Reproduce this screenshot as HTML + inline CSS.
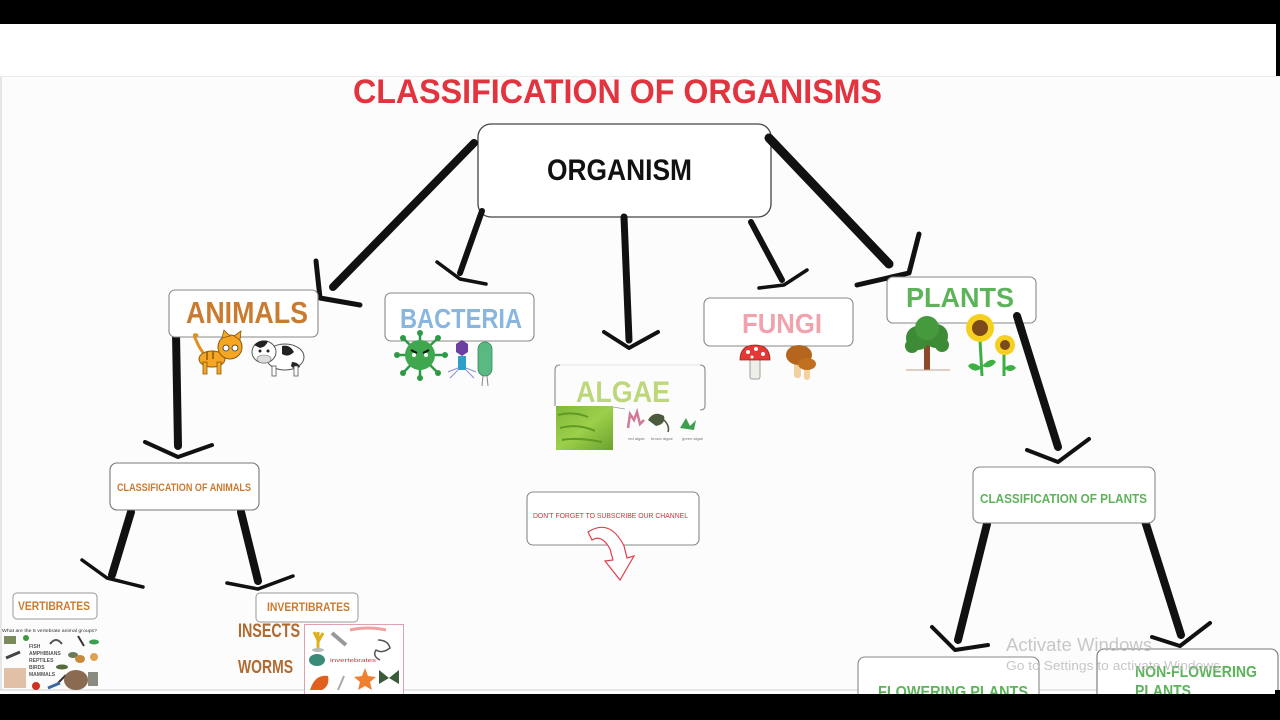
<!DOCTYPE html>
<html><head><meta charset="utf-8"><style>
html,body{margin:0;padding:0;background:#000;}
svg{display:block}
</style></head><body>
<svg width="1280" height="720" viewBox="0 0 1280 720" xmlns="http://www.w3.org/2000/svg" font-family="Liberation Sans, sans-serif">
<defs>
<linearGradient id="alg" x1="0" y1="0" x2="1" y2="1">
<stop offset="0" stop-color="#7fb83a"/><stop offset="0.5" stop-color="#9ccf4a"/><stop offset="1" stop-color="#6aa22c"/>
</linearGradient>
</defs>
<rect x="0" y="0" width="1280" height="720" fill="#000"/>
<rect x="0" y="24" width="1276" height="52" fill="#fff"/>
<rect x="0" y="76" width="1280" height="614" fill="#fcfcfc"/>
<rect x="0" y="690" width="1275" height="4" fill="#fff"/>
<line x1="0" y1="76.5" x2="1280" y2="76.5" stroke="#ececec"/>
<line x1="1" y1="77" x2="1" y2="690" stroke="#d0d0d0"/>
<line x1="0" y1="690" x2="1275" y2="690" stroke="#cfcfcf"/>

<!-- Title -->
<text x="353" y="103" font-size="34" font-weight="bold" fill="#e1343f" textLength="529" lengthAdjust="spacingAndGlyphs">CLASSIFICATION OF ORGANISMS</text>

<!-- ORGANISM box -->
<rect x="478" y="124" width="293" height="93" rx="13" fill="#fff" stroke="#444" stroke-width="1.3"/>
<text x="547" y="180" font-size="30" font-weight="bold" fill="#111" textLength="145" lengthAdjust="spacingAndGlyphs">ORGANISM</text>

<!-- Connectors -->
<g stroke="#111" stroke-linecap="round" stroke-linejoin="round" fill="none">
  <!-- to animals -->
  <line x1="474" y1="143" x2="333" y2="287" stroke-width="8"/>
  <polyline points="316,261 320,298 360,305" stroke-width="5"/>
  <!-- to bacteria -->
  <line x1="482" y1="211" x2="460" y2="273" stroke-width="6"/>
  <polyline points="437,262 460,279 486,284" stroke-width="3.5"/>
  <!-- to algae -->
  <line x1="624" y1="217" x2="629" y2="340" stroke-width="7"/>
  <polyline points="604,332 629,348 658,332" stroke-width="4"/>
  <!-- to fungi -->
  <line x1="751" y1="222" x2="782" y2="280" stroke-width="6"/>
  <polyline points="759,288 784,285 807,270" stroke-width="3.5"/>
  <!-- to plants -->
  <line x1="769" y1="138" x2="889" y2="264" stroke-width="9"/>
  <polyline points="919,234 909,273 857,285" stroke-width="5"/>
  <!-- animals to classification -->
  <line x1="176" y1="334" x2="178" y2="446" stroke-width="8"/>
  <polyline points="145,442 178,457 212,445" stroke-width="4"/>
  <!-- classification animals -> vert/invert -->
  <line x1="131" y1="512" x2="112" y2="575" stroke-width="8"/>
  <polyline points="82,560 107,578 143,587" stroke-width="3.5"/>
  <line x1="241" y1="512" x2="258" y2="581" stroke-width="8"/>
  <polyline points="227,583 258,589 293,576" stroke-width="3.5"/>
  <!-- plants to classification -->
  <line x1="1017" y1="316" x2="1058" y2="447" stroke-width="8"/>
  <polyline points="1027,450 1058,462 1089,439" stroke-width="4"/>
  <!-- classification plants -> flowering / non-flowering -->
  <line x1="987" y1="524" x2="958" y2="640" stroke-width="8"/>
  <polyline points="932,627 955,650 988,645" stroke-width="4"/>
  <line x1="1145" y1="521" x2="1181" y2="635" stroke-width="8"/>
  <polyline points="1152,637 1180,646 1210,623" stroke-width="4"/>
</g>

<!-- ANIMALS -->
<rect x="169" y="290" width="149" height="47" rx="6" fill="#fff" stroke="#888" stroke-width="1.1"/>
<text x="186" y="323" font-size="31" font-weight="bold" fill="#c97b30" textLength="122" lengthAdjust="spacingAndGlyphs">ANIMALS</text>
<!-- cat -->
<g>
  <path d="M196,340 Q192,332 198,336" stroke="#e0901e" stroke-width="3" fill="none"/>
  <path d="M196,340 Q200,350 206,356" stroke="#e0901e" stroke-width="3" fill="none"/>
  <ellipse cx="212" cy="359" rx="13" ry="8" fill="#f5a623" stroke="#8a5a10" stroke-width="1"/>
  <rect x="203" y="362" width="4" height="12" fill="#f5a623" stroke="#8a5a10" stroke-width="0.8"/>
  <rect x="217" y="362" width="4" height="12" fill="#f5a623" stroke="#8a5a10" stroke-width="0.8"/>
  <circle cx="230" cy="347" r="12" fill="#f5a623" stroke="#8a5a10" stroke-width="1"/>
  <polygon points="222,338 224,330 230,336" fill="#f5a623" stroke="#8a5a10" stroke-width="0.8"/>
  <polygon points="234,336 241,331 240,340" fill="#f5a623" stroke="#8a5a10" stroke-width="0.8"/>
  <circle cx="226" cy="348" r="3" fill="#fff" stroke="#333" stroke-width="0.8"/>
  <circle cx="235" cy="348" r="3" fill="#fff" stroke="#333" stroke-width="0.8"/>
  <path d="M207,352 l0,8 M213,351 l0,8" stroke="#8a5a10" stroke-width="1.5"/>
</g>
<!-- cow -->
<g>
  <ellipse cx="285" cy="357" rx="19" ry="13" fill="#fff" stroke="#555" stroke-width="1"/>
  <path d="M282,346 q8,-2 12,6 q-6,6 -12,2 z" fill="#222"/>
  <path d="M292,362 q6,0 8,5 q-6,3 -9,-1 z" fill="#222"/>
  <rect x="272" y="366" width="4" height="10" fill="#fff" stroke="#555" stroke-width="0.8"/>
  <rect x="294" y="366" width="4" height="10" fill="#fff" stroke="#555" stroke-width="0.8"/>
  <ellipse cx="264" cy="352" rx="12" ry="11" fill="#fff" stroke="#555" stroke-width="1"/>
  <path d="M254,345 q6,-6 14,-4 q-2,6 -8,7 z" fill="#222"/>
  <ellipse cx="264" cy="359" rx="7" ry="4" fill="#ddd" stroke="#777" stroke-width="0.6"/>
  <circle cx="260" cy="351" r="1.5" fill="#222"/><circle cx="268" cy="351" r="1.5" fill="#222"/>
</g>

<!-- BACTERIA -->
<rect x="385" y="293" width="149" height="48" rx="6" fill="#fff" stroke="#888" stroke-width="1.1"/>
<text x="400" y="328" font-size="28" font-weight="bold" fill="#88b6df" textLength="122" lengthAdjust="spacingAndGlyphs">BACTERIA</text>
<g stroke="#2f9a46" stroke-width="2.5" stroke-linecap="round">
  <line x1="420" y1="355" x2="420" y2="333"/><line x1="420" y1="355" x2="420" y2="378"/>
  <line x1="420" y1="355" x2="398" y2="355"/><line x1="420" y1="355" x2="444" y2="355"/>
  <line x1="420" y1="355" x2="404" y2="339"/><line x1="420" y1="355" x2="437" y2="339"/>
  <line x1="420" y1="355" x2="404" y2="372"/><line x1="420" y1="355" x2="437" y2="372"/>
</g>
<g fill="#2f9a46">
  <circle cx="420" cy="355" r="15" fill="#3fa84f"/>
  <circle cx="420" cy="333" r="3"/><circle cx="420" cy="378" r="3"/><circle cx="397" cy="355" r="3"/><circle cx="445" cy="355" r="3"/>
  <circle cx="403" cy="338" r="3"/><circle cx="438" cy="338" r="3"/><circle cx="403" cy="373" r="3"/><circle cx="438" cy="373" r="3"/>
</g>
<path d="M411,350 l6,3 M429,350 l-6,3" stroke="#111" stroke-width="2"/>
<circle cx="414" cy="355" r="2" fill="#fff"/><circle cx="426" cy="355" r="2" fill="#fff"/>
<polygon points="456,344 462,340 468,344 468,352 462,356 456,352" fill="#6a3fa0"/>
<rect x="458" y="356" width="8" height="14" fill="#2ea0c8"/>
<path d="M458,370 l-8,8 M466,370 l8,8 M458,368 l-10,4 M466,368 l10,4" stroke="#8c8cc8" stroke-width="1"/>
<rect x="478" y="342" width="14" height="34" rx="7" fill="#5ab882" stroke="#3a8a5a" stroke-width="0.8"/>
<path d="M483,376 l-1,10 M487,376 l1,10" stroke="#888" stroke-width="1"/>

<!-- ALGAE -->
<path d="M560,365 Q555,365 555,370 L555,406 M700,365 Q705,365 705,370 L705,406 Q705,410 700,410" fill="none" stroke="#888" stroke-width="1.1"/>
<line x1="560" y1="365" x2="700" y2="365" stroke="#e6e6e6" stroke-width="1"/>
<text x="576" y="402" font-size="30" font-weight="bold" fill="#bcd87a" textLength="94" lengthAdjust="spacingAndGlyphs">ALGAE</text>
<rect x="556" y="406" width="57" height="44" fill="url(#alg)"/>
<path d="M558,415 q15,-4 30,2 M560,428 q18,-5 35,3 M562,440 q15,-3 40,2" stroke="#5f9a26" stroke-width="2" fill="none"/>
<line x1="613" y1="407" x2="625" y2="409" stroke="#999" stroke-width="0.8"/>
<path d="M628,428 l2,-14 l4,6 l3,-8 l3,12 l4,-4" stroke="#d07a9a" stroke-width="2.5" fill="none"/>
<path d="M648,420 q6,-10 16,-4 q2,8 -8,10 z" fill="#4a5a3a"/>
<path d="M664,420 q6,6 4,12" stroke="#4a5a3a" stroke-width="1.5" fill="none"/>
<path d="M680,428 l6,-10 l4,8 l6,-6 l-2,10 z" fill="#3aa050"/>
<text x="628" y="440" font-size="4" fill="#777">red algae</text>
<text x="651" y="440" font-size="4" fill="#777">brown algae</text>
<text x="682" y="440" font-size="4" fill="#777">green algae</text>

<!-- FUNGI -->
<rect x="704" y="298" width="149" height="48" rx="6" fill="#fff" stroke="#888" stroke-width="1.1"/>
<text x="742" y="333" font-size="28" font-weight="bold" fill="#f0a3ad" textLength="80" lengthAdjust="spacingAndGlyphs">FUNGI</text>
<rect x="750" y="357" width="10" height="22" rx="2" fill="#eef0e8" stroke="#888" stroke-width="0.8"/>
<path d="M740,360 Q740,345 755,345 Q770,345 770,360 Z" fill="#e53935" stroke="#a02020" stroke-width="0.8"/>
<circle cx="748" cy="352" r="2" fill="#fff"/><circle cx="756" cy="349" r="2" fill="#fff"/><circle cx="763" cy="354" r="2" fill="#fff"/><circle cx="752" cy="357" r="1.5" fill="#fff"/>
<rect x="794" y="360" width="7" height="18" rx="3" fill="#f2d0a0"/>
<rect x="804" y="366" width="6" height="14" rx="3" fill="#f2d0a0"/>
<ellipse cx="799" cy="355" rx="13" ry="10" fill="#b5651d"/>
<ellipse cx="807" cy="364" rx="9" ry="6" fill="#c07020"/>

<!-- PLANTS -->
<rect x="887" y="277" width="149" height="46" rx="6" fill="#fff" stroke="#888" stroke-width="1.1"/>
<text x="906" y="307" font-size="28" font-weight="bold" fill="#5db35a" textLength="108" lengthAdjust="spacingAndGlyphs">PLANTS</text>
<line x1="1017" y1="316" x2="1022" y2="332" stroke="#111" stroke-width="8" stroke-linecap="round"/>
<rect x="924" y="342" width="6" height="28" fill="#8b4a2a"/>
<circle cx="918" cy="338" r="12" fill="#3d8b37"/><circle cx="936" cy="336" r="12" fill="#3d8b37"/>
<circle cx="927" cy="328" r="12" fill="#449a3c"/><circle cx="912" cy="346" r="7" fill="#3d8b37"/><circle cx="942" cy="345" r="7" fill="#3d8b37"/>
<line x1="906" y1="370" x2="950" y2="370" stroke="#c0a090" stroke-width="1"/>
<path d="M980,340 L982,376 M1004,352 L1004,376" stroke="#3cb043" stroke-width="3"/>
<path d="M982,368 q-10,-8 -14,-2 q6,8 14,2 M982,366 q10,-10 14,-4 q-6,8 -14,4 M1004,368 q8,-6 12,0 q-6,6 -12,0" fill="#3cb043"/>
<circle cx="980" cy="328" r="14" fill="#f5d020"/>
<circle cx="980" cy="328" r="8" fill="#7a4a1a"/>
<circle cx="1005" cy="345" r="10" fill="#f5d020"/>
<circle cx="1005" cy="345" r="5" fill="#7a4a1a"/>

<!-- CLASSIFICATION OF ANIMALS -->
<rect x="110" y="463" width="149" height="47" rx="7" fill="#fff" stroke="#777" stroke-width="1.1"/>
<text x="117" y="491" font-size="11" font-weight="bold" fill="#c97b30" textLength="134" lengthAdjust="spacingAndGlyphs">CLASSIFICATION OF ANIMALS</text>

<!-- VERTIBRATES -->
<rect x="13" y="593" width="84" height="26" rx="4" fill="#fff" stroke="#999" stroke-width="1"/>
<text x="18" y="610" font-size="12" font-weight="bold" fill="#c97b30" textLength="72" lengthAdjust="spacingAndGlyphs">VERTIBRATES</text>
<text x="2" y="632" font-size="4.5" fill="#333" textLength="95" lengthAdjust="spacingAndGlyphs">What are the 5 vertebrate animal groups?</text>
<g font-size="5" fill="#555" font-weight="bold">
<text x="29" y="648">FISH</text><text x="29" y="655">AMPHIBIANS</text><text x="29" y="662">REPTILES</text><text x="29" y="669">BIRDS</text><text x="29" y="676">MAMMALS</text>
</g>
<g>
<rect x="4" y="636" width="12" height="8" fill="#7a8a5a"/>
<circle cx="26" cy="638" r="3" fill="#3a9a3a"/>
<path d="M50,644 q6,-8 12,0" stroke="#555" stroke-width="2" fill="none"/>
<path d="M78,636 l6,10" stroke="#333" stroke-width="2"/>
<ellipse cx="94" cy="642" rx="5" ry="2.5" fill="#3aa050"/>
<path d="M6,658 l14,-6" stroke="#444" stroke-width="3"/>
<ellipse cx="73" cy="655" rx="5" ry="3" fill="#6a7a5a"/>
<ellipse cx="80" cy="659" rx="5" ry="4" fill="#c98a40"/>
<circle cx="94" cy="657" r="4" fill="#e0a050"/>
<ellipse cx="62" cy="667" rx="6" ry="2.5" fill="#556b3a"/>
<path d="M58,683 l8,-8" stroke="#333" stroke-width="2"/>
<rect x="4" y="668" width="22" height="20" fill="#d8b090" opacity="0.8"/>
<ellipse cx="76" cy="680" rx="12" ry="10" fill="#8a6a50"/>
<rect x="88" y="672" width="10" height="14" fill="#8a8a80"/>
<circle cx="36" cy="686" r="4" fill="#d03020"/>
<path d="M48,688 l12,-5" stroke="#3a6aa0" stroke-width="3"/>
</g>

<!-- INVERTIBRATES -->
<rect x="256" y="593" width="102" height="29" rx="4" fill="#fff" stroke="#999" stroke-width="1"/>
<text x="267" y="611" font-size="12" font-weight="bold" fill="#c97b30" textLength="83" lengthAdjust="spacingAndGlyphs">INVERTIBRATES</text>
<text x="238" y="637" font-size="19" font-weight="bold" fill="#b06a30" textLength="62" lengthAdjust="spacingAndGlyphs">INSECTS</text>
<text x="238" y="673" font-size="18" font-weight="bold" fill="#b06a30" textLength="55" lengthAdjust="spacingAndGlyphs">WORMS</text>
<rect x="304.5" y="624.5" width="99" height="70" fill="#fff" stroke="#e0a0b0" stroke-width="1"/>
<path d="M318,650 l0,-18 M318,640 l-4,-8 M318,642 l5,-9" stroke="#e0b020" stroke-width="3" fill="none"/>
<ellipse cx="318" cy="650" rx="6" ry="2" fill="#bbb"/>
<path d="M332,633 l14,12" stroke="#999" stroke-width="4"/>
<path d="M350,630 q18,-4 36,0" stroke="#f0a0a0" stroke-width="3" fill="none"/>
<path d="M378,640 q10,0 12,8 q-8,6 -14,2 q-4,6 4,10" stroke="#555" stroke-width="1.5" fill="none"/>
<ellipse cx="317" cy="660" rx="8" ry="6" fill="#3a8a7a"/>
<text x="330" y="662" font-size="5" fill="#d03040" textLength="46" lengthAdjust="spacingAndGlyphs">invertebrates</text>
<path d="M310,690 q5,-16 18,-14 q2,10 -6,14 z" fill="#e06020"/>
<path d="M338,690 l6,-14" stroke="#aaa" stroke-width="2"/>
<path d="M365,668 l3,8 l8,1 l-6,5 l2,8 l-7,-4 l-7,4 l2,-8 l-6,-5 l8,-1 z" fill="#f08030"/>
<path d="M389,678 l-10,-8 l0,14 z M389,678 l10,-8 l0,14 z" fill="#3a5a3a"/>

<!-- DON'T FORGET -->
<rect x="527" y="492" width="172" height="53" rx="6" fill="#fff" stroke="#888" stroke-width="1.1"/>
<text x="533" y="518" font-size="7" fill="#d03040" textLength="155" lengthAdjust="spacingAndGlyphs">DON'T FORGET TO SUBSCRIBE OUR CHANNEL</text>
<path d="M588,532 Q610,518 624,546 L627,558 L634,556 L620,580 L605,561 L613,560 L610,549 Q602,534 592,540 Z" fill="#fff" stroke="#e04050" stroke-width="1.2"/>

<!-- CLASSIFICATION OF PLANTS -->
<rect x="973" y="467" width="182" height="56" rx="7" fill="#fff" stroke="#888" stroke-width="1.1"/>
<text x="980" y="503" font-size="13" font-weight="bold" fill="#5db35a" textLength="167" lengthAdjust="spacingAndGlyphs">CLASSIFICATION OF PLANTS</text>

<!-- FLOWERING PLANTS -->
<rect x="858" y="657" width="181" height="50" rx="7" fill="#fff" stroke="#888" stroke-width="1.1"/>
<text x="878" y="697" font-size="16" font-weight="bold" fill="#5db35a" textLength="150" lengthAdjust="spacingAndGlyphs">FLOWERING PLANTS</text>

<!-- NON-FLOWERING -->
<rect x="1097" y="649" width="181" height="60" rx="7" fill="#fff" stroke="#777" stroke-width="1.1"/>
<text x="1135" y="677" font-size="16" font-weight="bold" fill="#5db35a" textLength="122" lengthAdjust="spacingAndGlyphs">NON-FLOWERING</text>
<text x="1135" y="696" font-size="16" font-weight="bold" fill="#5db35a" textLength="56" lengthAdjust="spacingAndGlyphs">PLANTS</text>

<!-- Activate windows watermark -->
<text x="1006" y="651" font-size="18" fill="#bdbdbd" fill-opacity="0.85" textLength="146" lengthAdjust="spacingAndGlyphs">Activate Windows</text>
<text x="1006" y="670" font-size="13" fill="#bdbdbd" fill-opacity="0.85" textLength="218" lengthAdjust="spacingAndGlyphs">Go to Settings to activate Windows.</text>

<!-- bottom bar -->
<rect x="0" y="694" width="1280" height="26" fill="#000"/>
<rect x="1275" y="690" width="5" height="4" fill="#000"/>
</svg>
</body></html>
